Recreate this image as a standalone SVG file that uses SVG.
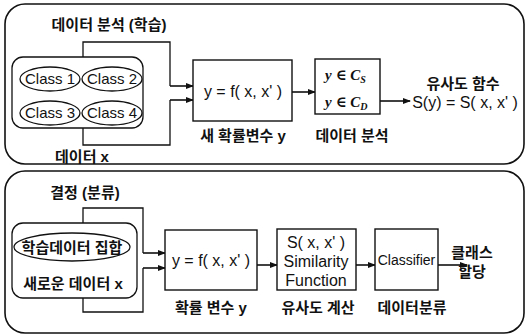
<svg xmlns="http://www.w3.org/2000/svg" width="526" height="335" viewBox="0 0 526 335">
<style>
.panel{fill:none;stroke:#111;stroke-width:1.6}
.box{fill:#fff;stroke:#111;stroke-width:1.4}
.grp{fill:none;stroke:#111;stroke-width:1.3}
.ell{fill:#fff;stroke:#111;stroke-width:1.3}
.ln{fill:none;stroke:#111;stroke-width:1.3}
.ar{fill:none;stroke:#111;stroke-width:1.6;marker-end:url(#ah)}
.t{font-family:"Liberation Sans","Noto Sans CJK KR",sans-serif;font-size:16px;fill:#111;text-anchor:middle}
.c{font-family:"Liberation Sans","Noto Sans CJK KR",sans-serif;font-size:15px;fill:#111;text-anchor:middle}
.k{font-family:"Liberation Sans","Noto Sans CJK KR",sans-serif;font-size:15px;font-weight:bold;fill:#111;text-anchor:middle}
.i{font-family:"Liberation Serif","DejaVu Serif",serif;font-size:15px;font-style:italic;font-weight:bold;fill:#111}
</style>
<defs>
<marker id="ah" markerWidth="8" markerHeight="6" refX="7" refY="3" orient="auto" markerUnits="userSpaceOnUse">
<path d="M0,0 L8,3 L0,6 Z" fill="#111"/>
</marker>
</defs>

<g id="panel-top">
<rect class="panel" x="5" y="4" width="519" height="160" rx="20" ry="20"/>
<text class="k" x="109" y="30">데이터 분석 (학습)</text>
</g>
<g id="panel-bottom">
<rect class="panel" x="5" y="171" width="519" height="162" rx="20" ry="20"/>
<text class="k" x="85" y="198">결정 (분류)</text>
</g>

<g id="connectors">
<polyline class="ln" points="83,57 83,42 170,42 170,86"/>
<line class="ar" x1="170" y1="86" x2="193" y2="86"/>
<polyline class="ln" points="83,128 83,145 170,145 170,100"/>
<line class="ar" x1="170" y1="100" x2="193" y2="100"/>
<line class="ar" x1="292" y1="92" x2="315" y2="92"/>
<line class="ar" x1="380" y1="101" x2="410" y2="101"/>

<polyline class="ln" points="83,223 83,208 143,208 143,253"/>
<line class="ar" x1="143" y1="253" x2="165" y2="253"/>
<polyline class="ln" points="83,298 83,312 143,312 143,268"/>
<line class="ar" x1="143" y1="268" x2="165" y2="268"/>
<line class="ar" x1="257" y1="265" x2="277" y2="265"/>
<line class="ar" x1="356" y1="265" x2="375" y2="265"/>
<line class="ar" x1="438" y1="265" x2="467" y2="265"/>
</g>

<g id="data-x">
<rect class="grp" x="12" y="57" width="131" height="71" rx="11" ry="11"/>
<text class="k" x="82" y="162">데이터 x</text>
</g>
<g id="class1">
<ellipse class="ell" cx="50" cy="79" rx="30" ry="12"/>
<text class="c" x="50" y="84">Class 1</text>
</g>
<g id="class2">
<ellipse class="ell" cx="112" cy="79" rx="30" ry="12"/>
<text class="c" x="112" y="84">Class 2</text>
</g>
<g id="class3">
<ellipse class="ell" cx="50" cy="113" rx="30" ry="12"/>
<text class="c" x="50" y="118">Class 3</text>
</g>
<g id="class4">
<ellipse class="ell" cx="112" cy="113" rx="30" ry="12"/>
<text class="c" x="112" y="118">Class 4</text>
</g>

<g id="func-top">
<rect class="box" x="193" y="60" width="99" height="61"/>
<text class="t" x="243" y="97">y = f( x, x' )</text>
<text class="k" x="243" y="141">새 확률변수 y</text>
</g>
<g id="analysis-top">
<rect class="box" x="315" y="59" width="65" height="55"/>
<text class="i" x="325" y="80">y ∈ C<tspan font-size="10" dy="3">S</tspan></text>
<text class="i" x="325" y="107">y ∈ C<tspan font-size="10" dy="3">D</tspan></text>
<text class="k" x="352" y="141">데이터 분석</text>
</g>
<g id="similarity-top">
<text class="k" x="463" y="89">유사도 함수</text>
<text class="t" x="465" y="108">S(y) = S( x, x' )</text>
</g>

<g id="new-data">
<rect class="grp" x="12" y="223" width="125" height="75" rx="11" ry="11"/>
<ellipse class="ell" cx="72" cy="247" rx="58" ry="14"/>
<text class="k" x="72" y="253">학습데이터 집합</text>
<text class="k" x="73" y="289">새로운 데이터 x</text>
</g>
<g id="func-bottom">
<rect class="box" x="165" y="230" width="92" height="60"/>
<text class="t" x="211" y="266">y = f( x, x' )</text>
<text class="k" x="211" y="313">확률 변수 y</text>
</g>
<g id="similarity-bottom">
<rect class="box" x="277" y="229" width="79" height="61"/>
<text class="t" x="316" y="248">S( x, x' )</text>
<text class="t" x="316" y="267">Similarity</text>
<text class="t" x="316" y="286">Function</text>
<text class="k" x="318" y="313">유사도 계산</text>
</g>
<g id="classifier">
<rect class="box" x="375" y="229" width="63" height="61"/>
<text class="t" x="406.5" y="265" style="font-size:14px">Classifier</text>
<text class="k" x="412" y="313">데이터분류</text>
</g>
<g id="assign">
<text class="k" x="472" y="258" text-anchor="start">클래스</text>
<text class="k" x="472" y="277" text-anchor="start">할당</text>
</g>
</svg>
